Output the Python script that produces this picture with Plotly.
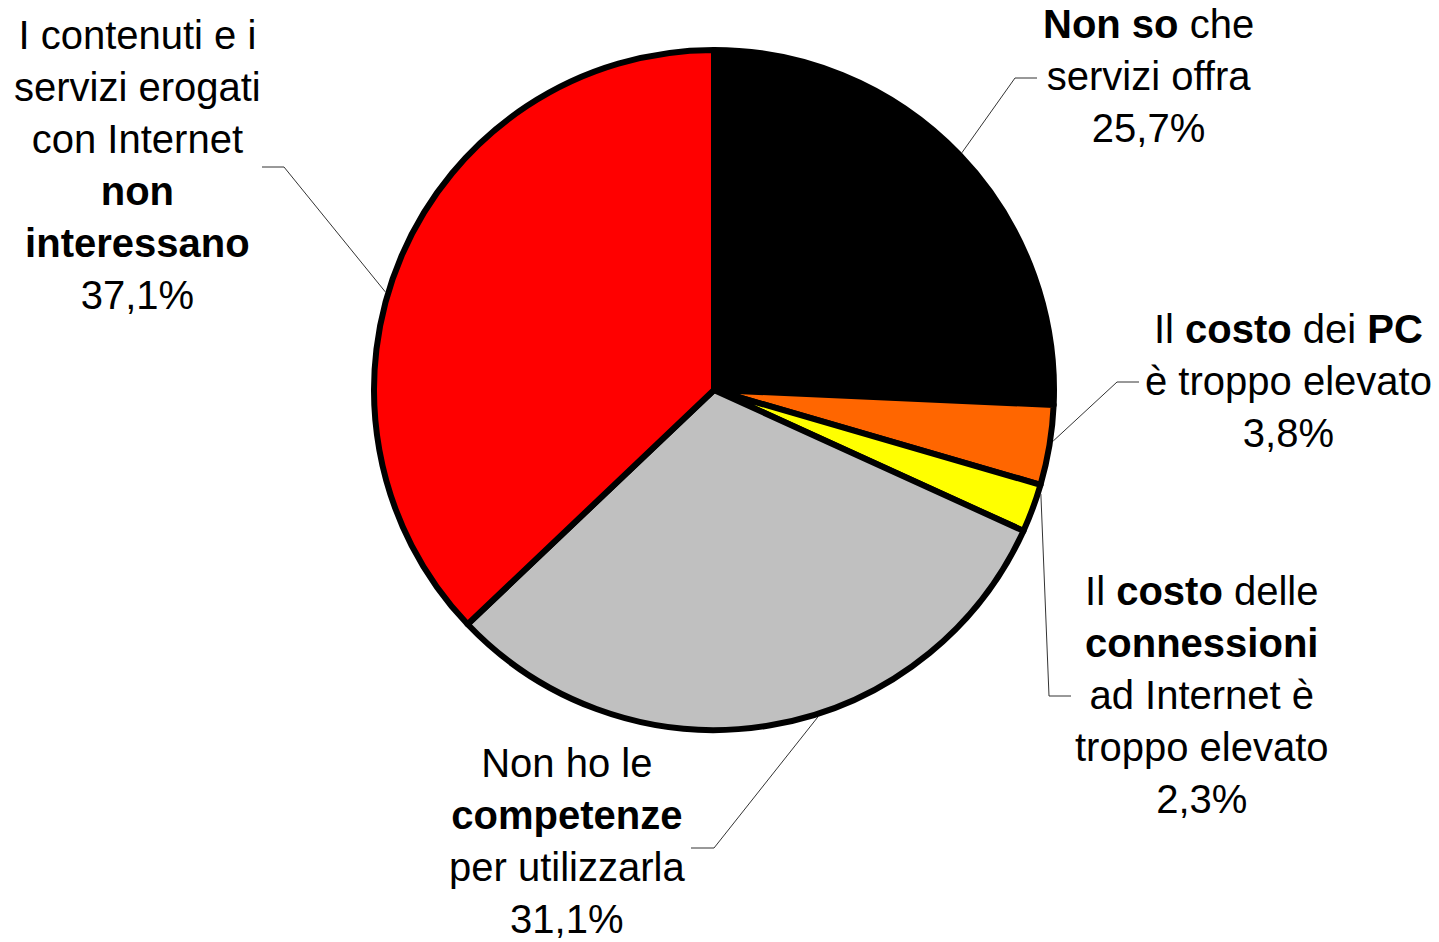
import math
import plotly.graph_objects as go

# ---- data ----
categories = [
    "Non so che servizi offra",
    "Il costo dei PC è troppo elevato",
    "Il costo delle connessioni ad Internet è troppo elevato",
    "Non ho le competenze per utilizzarla",
    "I contenuti e i servizi erogati con Internet non interessano",
]
values = [25.7, 3.8, 2.3, 31.1, 37.1]
label_texts = [
    "<b>Non so</b> che<br>servizi offra",
    "Il <b>costo</b> dei <b>PC</b><br>è troppo elevato",
    "Il <b>costo</b> delle<br><b>connessioni</b><br>ad Internet è<br>troppo elevato",
    "Non ho le<br><b>competenze</b><br>per utilizzarla",
    "I contenuti e i<br>servizi erogati<br>con Internet<br><b>non</b><br><b>interessano</b>",
]
colors = ["#000000", "#FF6600", "#FFFF00", "#C0C0C0", "#FF0000"]

# ---- layout (pixels) ----
W, H = 1439, 942
CX, CY, R = 714, 390, 340
FONT = "Liberation Sans, Arial, sans-serif"
FS = 40

# label centre positions and leader elbow/end points (pixels)
label_pos = [(1148, 76), (1288, 381), (1202, 695), (567, 841), (137, 165)]
elbows = [((1015, 78), (1037, 78)),
          ((1117, 382), (1139, 382)),
          ((1049, 696), (1071, 696)),
          ((714, 848), (691, 848)),
          ((284, 167), (262, 167))]
anchor_offset_deg = [0, -0.8, -2.7, -8.1, -6.6]


def px(x):
    return x / W


def py(y):
    return 1 - y / H


fig = go.Figure(go.Pie(
    labels=categories,
    values=values,
    sort=False,
    direction="clockwise",
    rotation=0,
    marker=dict(colors=colors, line=dict(color="#000000", width=6)),
    textinfo="none",
    hoverinfo="label+percent",
    showlegend=False,
    domain=dict(x=[px(CX - R), px(CX + R)], y=[py(CY + R), py(CY - R)]),
))

total = sum(values)
cum = 0.0
shapes = []
annotations = []
for i, v in enumerate(values):
    mid = (cum + v / 2) / total * 360 + anchor_offset_deg[i]
    cum += v
    th = math.radians(mid)
    ax = CX + (R + 3) * math.sin(th)
    ay = CY - (R + 3) * math.cos(th)
    (ex, ey), (hx, hy) = elbows[i]
    shapes.append(dict(
        type="path", xref="paper", yref="paper",
        path=f"M {px(ax)},{py(ay)} L {px(ex)},{py(ey)} L {px(hx)},{py(hy)}",
        line=dict(color="#333333", width=1),
    ))
    pct = f"{v:.1f}".replace(".", ",") + "%"
    lx, ly = label_pos[i]
    annotations.append(dict(
        x=px(lx), y=py(ly), xref="paper", yref="paper",
        xanchor="center", yanchor="middle", align="center",
        text=label_texts[i] + "<br>" + pct, showarrow=False,
        font=dict(family=FONT, size=FS, color="#000000"),
    ))

fig.update_layout(
    width=W, height=H,
    margin=dict(l=0, r=0, t=0, b=0),
    paper_bgcolor="#FFFFFF",
    plot_bgcolor="#FFFFFF",
    shapes=shapes,
    annotations=annotations,
    font=dict(family=FONT),
)

fig.write_html("out.html",
               config=dict(displayModeBar=False),
               post_script="document.body.style.margin='0';document.body.style.overflow='hidden';")
